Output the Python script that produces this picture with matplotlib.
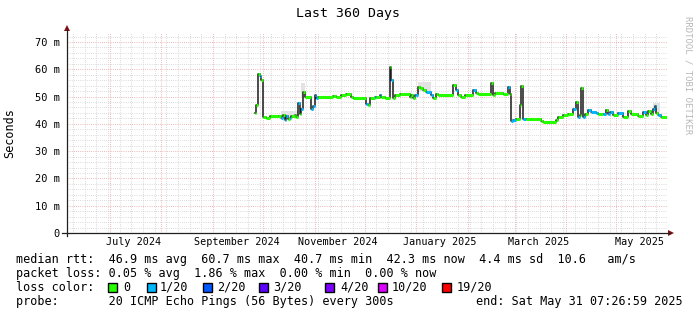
import matplotlib
matplotlib.use("Agg")
import matplotlib.pyplot as plt
import matplotlib.dates as mdates
import numpy as np
import pandas as pd
from matplotlib.patches import Rectangle, Polygon
from matplotlib.lines import Line2D

MONO = "DejaVu Sans Mono"

# ---------------- data ----------------
start_time = "2024-06-05 07:26:59"
end_time = "2025-05-31 07:26:59"

dates = [
    "2024-09-26", "2024-09-27", "2024-09-28", "2024-09-29", "2024-09-30", "2024-10-01",
    "2024-10-03", "2024-10-05", "2024-10-10", "2024-10-12", "2024-10-13", "2024-10-14",
    "2024-10-15", "2024-10-16", "2024-10-17", "2024-10-18", "2024-10-20", "2024-10-21",
    "2024-10-22", "2024-10-23", "2024-10-24", "2024-10-25", "2024-10-26", "2024-10-30",
    "2024-10-31", "2024-11-01", "2024-11-02", "2024-11-03", "2024-11-12", "2024-11-14",
    "2024-11-17", "2024-11-20", "2024-11-23", "2024-11-24", "2024-12-02", "2024-12-03",
    "2024-12-04", "2024-12-07", "2024-12-08", "2024-12-10", "2024-12-11", "2024-12-13",
    "2024-12-16", "2024-12-17", "2024-12-18", "2024-12-19", "2024-12-22", "2024-12-28",
    "2024-12-29", "2024-12-30", "2024-12-31", "2025-01-01", "2025-01-02", "2025-01-03",
    "2025-01-05", "2025-01-07", "2025-01-10", "2025-01-11", "2025-01-13", "2025-01-14",
    "2025-01-23", "2025-01-25", "2025-01-26", "2025-01-28", "2025-01-30", "2025-02-04",
    "2025-02-06", "2025-02-07", "2025-02-15", "2025-02-16", "2025-02-17", "2025-02-22",
    "2025-02-25", "2025-02-26", "2025-02-27", "2025-02-28", "2025-03-02", "2025-03-04",
    "2025-03-05", "2025-03-06", "2025-03-08", "2025-03-17", "2025-03-18", "2025-03-26",
    "2025-03-27", "2025-03-30", "2025-04-02", "2025-04-05", "2025-04-07", "2025-04-08",
    "2025-04-09", "2025-04-10", "2025-04-11", "2025-04-12", "2025-04-14", "2025-04-16",
    "2025-04-19", "2025-04-20", "2025-04-23", "2025-04-25", "2025-04-26", "2025-04-27",
    "2025-04-29", "2025-05-02", "2025-05-05", "2025-05-08", "2025-05-10", "2025-05-14",
    "2025-05-17", "2025-05-19", "2025-05-20", "2025-05-22", "2025-05-23", "2025-05-24",
    "2025-05-25", "2025-05-26", "2025-05-28",
]
median_ms = [
    44.1, 46.9, 58.3, 57.5, 56.0, 42.6,
    42.1, 42.7, 43.0, 42.0, 43.4, 41.5,
    43.0, 41.8, 42.3, 42.8, 43.2, 42.6,
    47.5, 43.5, 45.5, 51.8, 49.7, 45.5,
    46.5, 50.6, 49.5, 49.7, 50.3, 49.7,
    50.5, 50.9, 50.0, 49.6, 47.2, 46.9,
    49.3, 50.0, 49.7, 50.6, 50.0, 49.3,
    60.7, 56.0, 49.5, 50.6, 50.8, 49.8,
    50.5, 49.3, 50.7, 50.5, 53.6, 53.0,
    52.3, 51.6, 50.5, 49.3, 50.8, 50.6,
    54.2, 52.5, 50.6, 50.0, 50.4, 52.5,
    51.2, 50.9, 54.8, 50.7, 51.4, 51.0,
    53.4, 51.0, 41.2, 41.5, 41.7, 47.0,
    53.9, 41.7, 41.9, 41.2, 40.8, 41.5,
    42.4, 43.2, 43.5, 45.3, 48.1, 42.6,
    43.2, 53.0, 42.6, 43.5, 45.1, 44.2,
    43.9, 43.5, 43.7, 45.0, 43.5, 44.2,
    43.2, 43.9, 42.6, 44.7, 43.5, 43.0,
    44.5, 43.3, 44.8, 43.5, 45.3, 46.5,
    44.0, 43.3, 42.4,
]
loss_idx = [
    0, 0, 0, 1, 0, 0,
    0, 0, 0, 1, 0, 1,
    1, 0, 1, 0, 0, 0,
    1, 0, 1, 0, 0, 1,
    1, 1, 1, 0, 0, 0,
    0, 0, 0, 0, 1, 0,
    0, 1, 0, 1, 0, 0,
    0, 1, 0, 0, 0, 0,
    0, 0, 1, 1, 0, 0,
    0, 1, 1, 0, 0, 0,
    0, 1, 0, 0, 0, 1,
    0, 0, 0, 0, 0, 0,
    1, 0, 1, 1, 0, 0,
    0, 1, 0, 0, 0, 0,
    0, 0, 0, 1, 0, 1,
    0, 0, 1, 0, 1, 1,
    1, 0, 1, 0, 1, 1,
    0, 1, 0, 0, 0, 0,
    1, 0, 0, 0, 1, 1,
    0, 1, 0,
]

# smoke (spread of the pings) shown in grey
smoke_start = ["2024-10-12", "2024-10-24", "2025-01-02", "2025-04-24", "2025-05-23"]
smoke_end = ["2024-10-22", "2024-10-26", "2025-01-10", "2025-04-26", "2025-05-27"]
smoke_low = [42.5, 50.0, 52.0, 44.0, 44.5]
smoke_top = [44.8, 55.0, 55.5, 45.6, 47.8]

loss_labels = ["0", "1/20", "2/20", "3/20", "4/20", "10/20", "19/20"]
loss_colors = ["#26ff00", "#00b8ff", "#0059ff", "#5e00ff", "#7e00ff", "#dd00ff", "#ff0000"]

y_ticks = [0, 10, 20, 30, 40, 50, 60, 70]
y_tick_labels = ["0", "10 m", "20 m", "30 m", "40 m", "50 m", "60 m", "70 m"]
x_label_dates = ["2024-07-15", "2024-09-15", "2024-11-15", "2025-01-15", "2025-03-15", "2025-05-15"]
x_labels = ["July 2024", "September 2024", "November 2024", "January 2025", "March 2025", "May 2025"]

legend_rows = [
    "median rtt:  46.9 ms avg  60.7 ms max  40.7 ms min  42.3 ms now  4.4 ms sd  10.6   am/s",
    "packet loss: 0.05 % avg  1.86 % max  0.00 % min  0.00 % now",
    "loss color:",
    "probe:       20 ICMP Echo Pings (56 Bytes) every 300s",
]
end_text = "end: Sat May 31 07:26:59 2025"

# ---------------- figure ----------------
W, H = 697, 315
fig = plt.figure(figsize=(W / 100, H / 100), dpi=100)
fig.patch.set_facecolor("white")


def fx(x):
    return x / W


def fy(y):
    return 1 - y / H


ax = fig.add_axes([fx(67), fy(233), 600 / W, 200 / H])
ax.set_facecolor("white")
x0 = mdates.date2num(pd.Timestamp(start_time).to_pydatetime())
x1 = mdates.date2num(pd.Timestamp(end_time).to_pydatetime())
ax.set_xlim(x0, x1)
ax.set_ylim(0, 73.3)
for s in ax.spines.values():
    s.set_visible(False)

dot = (0, (0.72, 1.44))
minor_c = "#cfcfcf"
major_c = "#e6a3a3"

month_starts = pd.date_range("2024-07-01", "2025-05-01", freq="MS")
sundays = pd.date_range("2024-06-06", "2025-05-31", freq="W-SUN")
month_set = set(d.normalize() for d in month_starts)
for d in sundays:
    if d.normalize() in month_set:
        continue
    ax.axvline(mdates.date2num(d.to_pydatetime()), color=minor_c, lw=0.72, ls=dot, zorder=0)
for d in month_starts:
    ax.axvline(mdates.date2num(d.to_pydatetime()), color=major_c, lw=0.72, ls=dot, zorder=0.5)
for v in range(2, 74, 2):
    if v % 10 == 0:
        continue
    ax.axhline(v, color=minor_c, lw=0.72, ls=dot, zorder=0)
for v in range(10, 80, 10):
    ax.axhline(v, color=major_c, lw=0.72, ls=dot, zorder=0.5)

# smoke
for s, e, lo, hi in zip(smoke_start, smoke_end, smoke_low, smoke_top):
    xs_ = mdates.date2num([pd.Timestamp(s).to_pydatetime(), pd.Timestamp(e).to_pydatetime()])
    ax.fill_between(xs_, [lo, lo], [hi, hi], color="#e3e3e3", lw=0, zorder=1)

# median line
xs = mdates.date2num([pd.Timestamp(d).to_pydatetime() for d in dates])
ends = np.r_[xs[1:], x1]
vals = np.array(median_ms)
ax.step(np.r_[xs, x1], np.r_[vals, vals[-1]], where="post", color="#1a1a1a", lw=1.1, zorder=2)
ax.hlines(vals, xs, ends, colors=[loss_colors[i] for i in loss_idx], lw=2.2, zorder=3)

# ticks
ax.set_yticks(y_ticks)
ax.set_yticklabels(y_tick_labels, fontfamily=MONO, fontsize=7.5)
ax.tick_params(axis="y", length=0, pad=5)
ax.set_xticks(mdates.date2num([pd.Timestamp(d).to_pydatetime() for d in x_label_dates]))
ax.set_xticklabels(x_labels, fontfamily=MONO, fontsize=7.3)
ax.tick_params(axis="x", length=0, pad=3)

# axes lines and arrows
axis_c = "#202020"
arrow_c = "#7f1010"
fig.add_artist(Line2D([fx(62), fx(670)], [fy(233), fy(233)], color=axis_c, lw=0.9))
fig.add_artist(Line2D([fx(67), fx(67)], [fy(236), fy(30)], color=axis_c, lw=0.9))
fig.add_artist(Polygon([(fx(668), fy(230)), (fx(668), fy(236)), (fx(674), fy(233))],
                       closed=True, color=arrow_c, lw=0))
fig.add_artist(Polygon([(fx(64), fy(31)), (fx(70), fy(31)), (fx(67), fy(25))],
                       closed=True, color=arrow_c, lw=0))

# texts
fig.text(fx(348), fy(13), "Last 360 Days", ha="center", va="center", fontfamily=MONO, fontsize=9.5)
fig.text(fx(10), fy(133), "Seconds", rotation=90, ha="center", va="center", fontfamily=MONO, fontsize=8.5)
fig.text(fx(688), fy(75), "RRDTOOL / TOBI OETIKER", rotation=270, ha="center", va="center",
         fontfamily=MONO, fontsize=6.5, color="#b8b8b8")

row_y = [259.5, 273.5, 287.5, 301.5]
for txt, y in zip(legend_rows, row_y):
    fig.text(fx(16), fy(y), txt, ha="left", va="center", fontfamily=MONO, fontsize=8.5)
fig.text(fx(476), fy(row_y[3]), end_text, ha="left", va="center", fontfamily=MONO, fontsize=8.5)

box_x = [108, 147, 203, 259, 325, 378, 442]
lab_x = [123, 160, 217, 273, 340, 392, 457]
for bx, lx, c, lab in zip(box_x, lab_x, loss_colors, loss_labels):
    fig.add_artist(Rectangle((fx(bx), fy(row_y[2] + 4.5)), 9 / W, 9 / H,
                             facecolor=c, edgecolor="black", lw=1.0))
    fig.text(fx(lx), fy(row_y[2]), lab, ha="left", va="center", fontfamily=MONO, fontsize=8.5)

fig.savefig("out.png", dpi=100)
